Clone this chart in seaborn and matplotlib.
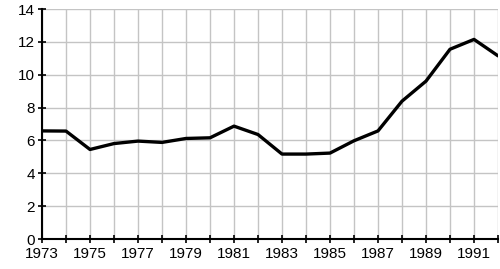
import matplotlib
matplotlib.use("Agg")
import matplotlib.pyplot as plt
import seaborn as sns
import pandas as pd

years = list(range(1973, 1993))
values = [6.58, 6.57, 5.45, 5.81, 5.96, 5.88, 6.12, 6.16, 6.87, 6.36,
          5.17, 5.17, 5.23, 5.98, 6.58, 8.39, 9.61, 11.55, 12.15, 11.15]
xtick_labels = [str(y) for y in range(1973, 1993, 2)]
yticks = [0, 2, 4, 6, 8, 10, 12, 14]

sns.set_theme(style="white")
plt.rcParams['font.family'] = ['Liberation Sans', 'DejaVu Sans']

df = pd.DataFrame({"year": years, "value": values})

fig = plt.figure(figsize=(5.0, 2.69), dpi=100)
ax = fig.add_axes([0.084, 0.1115, 0.912, 0.855])
sns.lineplot(data=df, x="year", y="value", ax=ax, color="black", linewidth=2.4, zorder=3)

ax.set_xlim(1973, 1992)
ax.set_ylim(0, 14)
ax.set_xticks(years)
ax.set_xticklabels([str(y) if str(y) in xtick_labels else "" for y in years])
ax.set_yticks(yticks)
ax.set_yticklabels([str(v) for v in yticks])
ax.grid(True, color="#c4c4c4", linewidth=1.0)
ax.set_axisbelow(True)
for s in ["top", "right"]:
    ax.spines[s].set_visible(False)
for s in ["left", "bottom"]:
    ax.spines[s].set_color("black")
    ax.spines[s].set_linewidth(1.5)
ax.tick_params(axis="both", which="major", bottom=True, left=True, direction="inout",
               length=6, width=1.2, colors="black", labelsize=11, pad=2)
ax.tick_params(axis="x", pad=3)
ax.set_xlabel("")
ax.set_ylabel("")
fig.savefig("out.png", dpi=100)
